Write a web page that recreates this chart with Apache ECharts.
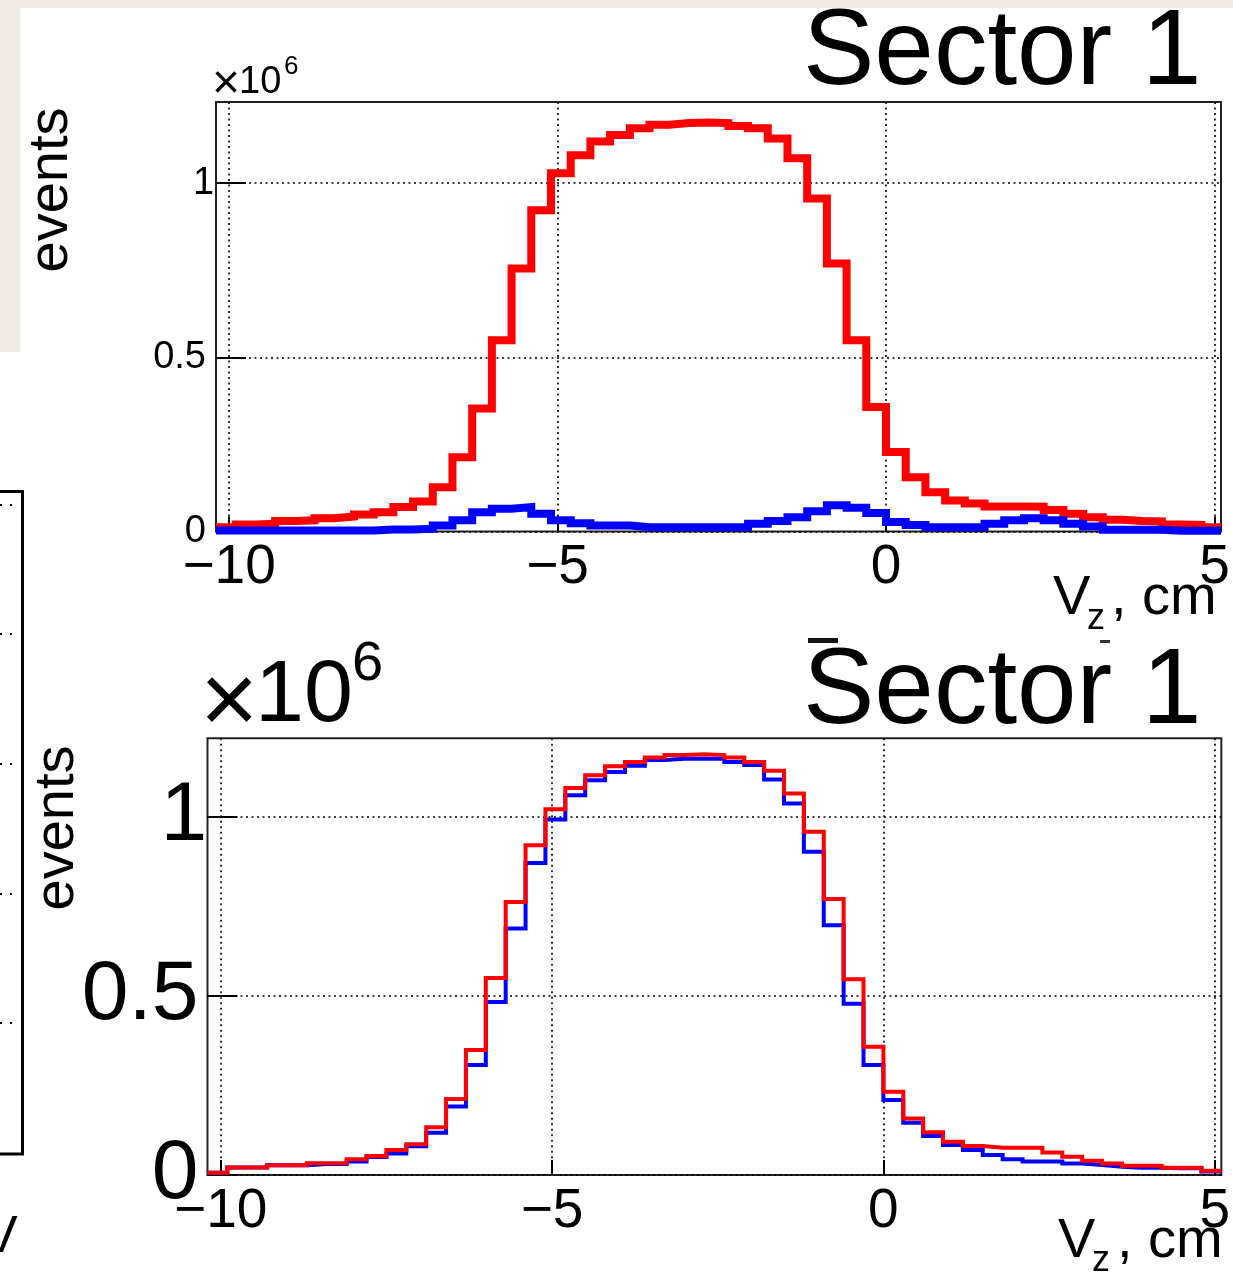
<!DOCTYPE html>
<html><head><meta charset="utf-8">
<script src="https://cdn.jsdelivr.net/npm/echarts@6/dist/echarts.min.js"></script>
<style>html,body{margin:0;padding:0;background:#fff}#c{width:1233px;height:1279px}</style>
</head><body><div id="c"></div>
<script>
// Bin edges of the V_z histograms (cm)
const binEdges = [-10.2,-9.9,-9.6,-9.3,-9.0,-8.7,-8.4,-8.1,-7.8,-7.5,-7.2,-6.9,-6.6,-6.3,-6.0,-5.7,-5.4,-5.1,-4.8,-4.5,-4.2,-3.9,-3.6,-3.3,-3.0,-2.7,-2.4,-2.1,-1.8,-1.5,-1.2,-0.9,-0.6,-0.3,0.0,0.3,0.6,0.9,1.2,1.5,1.8,2.1,2.4,2.7,3.0,3.3,3.6,3.9,4.2,4.5,4.8,5.1];
// Bin contents in units of 10^6 events
const topRed = [0.012,0.020,0.022,0.030,0.032,0.038,0.043,0.049,0.055,0.070,
 0.086,0.127,0.213,0.353,0.549,0.755,0.922,1.028,1.080,1.119,
 1.138,1.157,1.167,1.172,1.174,1.172,1.164,1.157,1.128,1.071,
 0.956,0.769,0.549,0.357,0.228,0.156,0.113,0.089,0.080,0.072,
 0.072,0.071,0.062,0.051,0.041,0.034,0.030,0.029,0.020,0.019,
 0.012];
const topBlue = [0.003,0.003,0.003,0.003,0.003,0.003,0.003,0.003,0.006,0.006,
 0.008,0.017,0.032,0.055,0.065,0.070,0.051,0.032,0.024,0.017,
 0.017,0.012,0.012,0.012,0.012,0.012,0.012,0.022,0.030,0.041,
 0.058,0.075,0.068,0.053,0.027,0.019,0.012,0.012,0.012,0.022,
 0.032,0.038,0.032,0.022,0.014,0.005,0.005,0.005,0.002,0.002,
 0.002];
const botRed = [0.006,0.021,0.021,0.027,0.027,0.033,0.033,0.044,0.053,0.070,
 0.086,0.133,0.212,0.349,0.550,0.762,0.920,1.021,1.080,1.116,
 1.141,1.153,1.165,1.172,1.174,1.172,1.165,1.153,1.128,1.065,
 0.958,0.770,0.546,0.358,0.232,0.158,0.119,0.093,0.081,0.076,
 0.076,0.076,0.063,0.051,0.040,0.032,0.026,0.026,0.020,0.020,
 0.012];
const botBlue = [0.006,0.021,0.021,0.027,0.027,0.031,0.031,0.038,0.050,0.060,
 0.080,0.118,0.191,0.307,0.483,0.688,0.871,0.992,1.060,1.102,
 1.125,1.142,1.158,1.162,1.162,1.162,1.153,1.144,1.104,1.037,
 0.902,0.697,0.478,0.307,0.209,0.146,0.109,0.084,0.070,0.056,
 0.044,0.038,0.038,0.032,0.028,0.023,0.020,0.020,0.019,0.019,
 0.010];
const xTicks = [-10, -5, 0, 5];
const yTicks = [0, 0.5, 1];
const titleText = 'Sector 1';
const yName = 'events';

const FONT = '"Liberation Sans", Arial, Helvetica, sans-serif';
function steps(vals) {
  const d = vals.map((v, i) => [binEdges[i], v]);
  d.push([binEdges[binEdges.length - 1], vals[vals.length - 1]]);
  return d;
}
const dotted = {color: '#000', width: 1.6, type: [2, 3.5]};
const fmtX = v => String(v).replace('-', '\u2212');
function mkX(gi, fs, margin) {
  return {type: 'value', gridIndex: gi, min: -10.2, max: 5.1,
    axisLine: {show: false, onZero: false},
    axisTick: {show: true, inside: true, length: 15, customValues: xTicks, lineStyle: {color: '#000', width: 2}},
    axisLabel: {customValues: xTicks, fontFamily: FONT, fontSize: fs, color: '#000', margin: margin, formatter: fmtX},
    splitLine: {show: true, lineStyle: dotted}};
}
function mkY(gi, max, fs, margin, oneW) {
  return {type: 'value', gridIndex: gi, min: 0, max: max, interval: 0.5,
    axisLine: {show: false, onZero: false},
    axisTick: {show: true, inside: true, length: 30, customValues: yTicks, lineStyle: {color: '#000', width: 2}},
    axisLabel: {customValues: yTicks, fontFamily: FONT, fontSize: fs, color: '#000', margin: margin,
      formatter: v => (v === 1 ? '{one|1}' : String(v)),
      rich: {one: {width: oneW, align: 'left', fontFamily: FONT, fontSize: fs, color: '#000'}}},
    splitLine: {show: true, lineStyle: dotted}};
}
function line(gi, vals, color, w, z) {
  return {type: 'line', xAxisIndex: gi, yAxisIndex: gi, step: 'end', data: steps(vals),
    showSymbol: false, symbol: 'none', clip: false, z: z, silent: true,
    lineStyle: {color: color, width: w, cap: 'butt', join: 'miter'}};
}
function txt(x, y, s, fs, extra) {
  return Object.assign({type: 'text', x: x, y: y, silent: true,
    style: {text: s, x: 0, y: 0, fontFamily: FONT, fontSize: fs, fill: '#000',
      textAlign: 'left', textVerticalAlign: 'middle'}}, extra || {});
}
function vtxt(x, y, s, fs) {
  return {type: 'text', x: x, y: y, rotation: Math.PI / 2, silent: true,
    style: {text: s, x: 0, y: 0, fontFamily: FONT, fontSize: fs, fill: '#000', textAlign: 'center', textVerticalAlign: 'middle'}};
}
function rect(x, y, w, h, fill) {
  return {type: 'rect', silent: true, shape: {x: x, y: y, width: w, height: h}, style: {fill: fill}};
}
function seg(x1, y1, x2, y2, w, dash) {
  return {type: 'line', silent: true, shape: {x1: x1, y1: y1, x2: x2, y2: y2},
    style: {stroke: '#000', lineWidth: w, lineDash: dash || null}};
}

const chart = echarts.init(document.getElementById('c'), null, {renderer: 'canvas'});
chart.setOption({
  backgroundColor: '#ffffff',
  animation: false,
  grid: [
    {left: 216, top: 102, width: 1005, height: 429.5, show: true, borderColor: '#222', borderWidth: 2, backgroundColor: 'transparent'},
    {left: 207.5, top: 738.3, width: 1019.5, height: 436.7, show: true, borderColor: '#222', borderWidth: 2, backgroundColor: 'transparent'}
  ],
  xAxis: [mkX(0, 55, 9), mkX(1, 55, 9)],
  yAxis: [mkY(0, 1.2326, 38, 10, 13), mkY(1, 1.2188, 84, 9, 38)],
  series: [
    line(0, topRed, '#ff0000', 8, 3),
    line(0, topBlue, '#0000ff', 8, 4),
    line(1, botBlue, '#0000ff', 4, 3),
    line(1, botRed, '#ff0000', 4, 4)
  ],
  graphic: [
    // collage background pieces
    rect(0, 0, 1233, 8, '#efebe4'),
    rect(0, 0, 20.5, 352, '#efebe4'),
    seg(22.5, 490, 22.5, 1155, 3),
    seg(0, 491.5, 24, 491.5, 3),
    seg(0, 1154, 24, 1154, 3),
    seg(0, 505, 16, 505, 2, [2, 8]),
    seg(0, 634, 16, 634, 2, [2, 8]),
    seg(0, 764, 16, 764, 2, [2, 8]),
    seg(0, 894, 16, 894, 2, [2, 8]),
    seg(0, 1023, 16, 1023, 2, [2, 8]),
    txt(-17, 1238, 'V', 52),
    rect(808, 638, 30, 5, '#111'),
    rect(1100, 640, 10, 3, '#333'),
    // top pad texts
    txt(803, 54, titleText, 107),
    txt(212, 85, '\u00d7', 48),
    txt(239, 82.5, '10', 38),
    txt(284, 66.5, '6', 26),
    vtxt(52, 190, yName, 56),
    txt(1053, 599, 'V', 56),
    txt(1087, 619, 'z', 36),
    txt(1111, 599, ', cm', 56),
    // bottom pad texts
    txt(803, 693, titleText, 107),
    txt(200, 705, '\u00d7', 100),
    txt(255, 696.5, '10', 88),
    txt(352, 665, '6', 56),
    vtxt(58, 828, yName, 56),
    txt(1058, 1242, 'V', 56),
    txt(1092, 1261, 'z', 36),
    txt(1117, 1242, ', cm', 56)
  ]
});
</script></body></html>
